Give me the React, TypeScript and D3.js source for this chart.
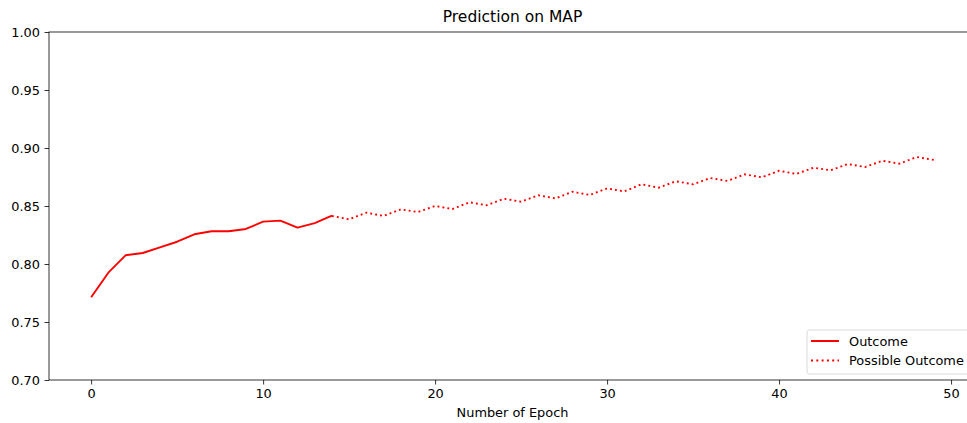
import React, { useEffect, useRef } from 'react';
import * as d3 from 'd3';

// observed MAP per epoch (0..14)
const outcome = [
  0.7713, 0.7925, 0.8075, 0.8095, 0.8144, 0.8192, 0.8256, 0.8282, 0.8282, 0.8302,
  0.8365, 0.8374, 0.8313, 0.8353, 0.8417,
];
// projected MAP per epoch (14..49)
const possibleStart = 14;
const possible = [
  0.8414, 0.8385, 0.8443, 0.8414, 0.8471, 0.8448, 0.8500, 0.8474, 0.8532, 0.8506,
  0.8563, 0.8537, 0.8592, 0.8566, 0.8623, 0.8595, 0.8652, 0.8626, 0.8687, 0.8658,
  0.8713, 0.8687, 0.8741, 0.8716, 0.8773, 0.8747, 0.8804, 0.8776, 0.8830, 0.8808,
  0.8862, 0.8836, 0.8890, 0.8865, 0.8922, 0.8897,
];
const xTicks = [0, 10, 20, 30, 40, 50];
const yTicks = [0.7, 0.75, 0.8, 0.85, 0.9, 0.95, 1.0];

const W = 967;
const H = 423;
const margin = { left: 49, top: 32, right: 976, bottom: 380 };
const font = 'DejaVu Sans, sans-serif';
const fs = 12.9;

export default function App() {
  const ref = useRef<SVGSVGElement>(null);

  useEffect(() => {
    const svg = d3.select(ref.current);
    svg.selectAll('*').remove();

    const x = d3.scaleLinear().domain([-2.45, 51.45]).range([margin.left, margin.right]);
    const y = d3.scaleLinear().domain([0.7, 1.0]).range([margin.bottom, margin.top]);

    const line = d3
      .line<[number, number]>()
      .x(d => x(d[0]))
      .y(d => y(d[1]));

    const outData: [number, number][] = outcome.map((v, i) => [i, v]);
    const posData: [number, number][] = possible.map((v, i) => [i + possibleStart, v]);

    svg
      .append('path')
      .datum(outData)
      .attr('d', line)
      .attr('fill', 'none')
      .attr('stroke', 'red')
      .attr('stroke-width', 1.9)
      .attr('stroke-linejoin', 'round');

    svg
      .append('path')
      .datum(posData)
      .attr('d', line)
      .attr('fill', 'none')
      .attr('stroke', 'red')
      .attr('stroke-width', 1.9)
      .attr('stroke-dasharray', '1.9,3.1');

    const xAxis = d3.axisBottom(x).tickValues(xTicks).tickSize(4.5).tickPadding(4.5).tickFormat(d3.format('d'));
    const gx = svg.append('g').attr('transform', `translate(0,${margin.bottom})`).call(xAxis);
    const ya = d3.axisLeft(y).tickValues(yTicks).tickSize(4.5).tickPadding(4.5).tickFormat(d3.format('.2f'));
    const gy = svg.append('g').attr('transform', `translate(${margin.left},0)`).call(ya);
    [gx, gy].forEach(g => {
      g.select('.domain').remove();
      g.selectAll('line').attr('stroke', 'black').attr('stroke-width', 0.8);
      g.selectAll('text').attr('font-family', font).attr('font-size', fs).attr('fill', '#000');
    });

    // spines
    svg
      .append('rect')
      .attr('x', margin.left)
      .attr('y', margin.top)
      .attr('width', margin.right - margin.left)
      .attr('height', margin.bottom - margin.top)
      .attr('fill', 'none')
      .attr('stroke', 'black')
      .attr('stroke-width', 0.8);

    svg
      .append('text')
      .attr('x', (margin.left + margin.right) / 2)
      .attr('y', 22)
      .attr('text-anchor', 'middle')
      .attr('font-family', font)
      .attr('font-size', 15.5)
      .text('Prediction on MAP');

    svg
      .append('text')
      .attr('x', (margin.left + margin.right) / 2)
      .attr('y', 417)
      .attr('text-anchor', 'middle')
      .attr('font-family', font)
      .attr('font-size', fs)
      .text('Number of Epoch');

    // legend
    const lg = svg.append('g');
    lg.append('rect')
      .attr('x', 807)
      .attr('y', 330)
      .attr('width', 163)
      .attr('height', 44)
      .attr('rx', 2.5)
      .attr('fill', 'white')
      .attr('fill-opacity', 0.8)
      .attr('stroke', '#d9d9d9')
      .attr('stroke-width', 1);
    const items = [
      { label: 'Outcome', dash: null as string | null, cy: 341 },
      { label: 'Possible Outcome', dash: '2,3.3', cy: 360.5 },
    ];
    items.forEach(it => {
      const l = lg
        .append('line')
        .attr('x1', 811)
        .attr('x2', 839)
        .attr('y1', it.cy)
        .attr('y2', it.cy)
        .attr('stroke', 'red')
        .attr('stroke-width', 2);
      if (it.dash) l.attr('stroke-dasharray', it.dash);
      lg.append('text')
        .attr('x', 849)
        .attr('y', it.cy + 4.7)
        .attr('font-family', font)
        .attr('font-size', fs)
        .text(it.label);
    });
  }, []);

  return (
    <svg
      ref={ref}
      width={W}
      height={H}
      style={{ position: 'absolute', left: 0, top: 0, background: 'white' }}
    />
  );
}
